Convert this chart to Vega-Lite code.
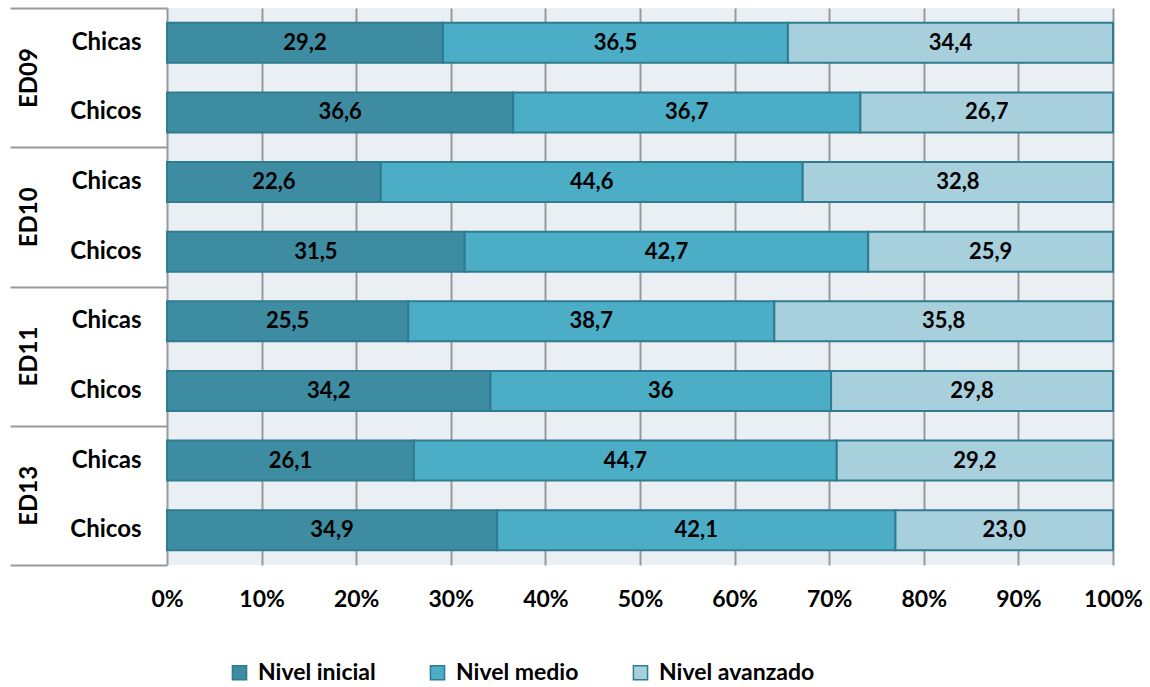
{
  "$schema": "https://vega.github.io/schema/vega-lite/v6.json",
  "width": 946,
  "height": 557,
  "autosize": {"type": "none"},
  "padding": {"left": 167, "top": 8, "right": 37, "bottom": 122},
  "background": "white",
  "config": {
    "font": "Lato",
    "view": {"stroke": null, "fill": "#e9eff2"}
  },
  "data": {
    "values": [
      {"fila": "ED09|Chicas", "grupo": "ED09", "nivel": "Nivel inicial", "orden": 1, "valor": 29.2, "etiqueta": "29,2"},
      {"fila": "ED09|Chicas", "grupo": "ED09", "nivel": "Nivel medio", "orden": 2, "valor": 36.5, "etiqueta": "36,5"},
      {"fila": "ED09|Chicas", "grupo": "ED09", "nivel": "Nivel avanzado", "orden": 3, "valor": 34.4, "etiqueta": "34,4"},
      {"fila": "ED09|Chicos", "grupo": "ED09", "nivel": "Nivel inicial", "orden": 1, "valor": 36.6, "etiqueta": "36,6"},
      {"fila": "ED09|Chicos", "grupo": "ED09", "nivel": "Nivel medio", "orden": 2, "valor": 36.7, "etiqueta": "36,7"},
      {"fila": "ED09|Chicos", "grupo": "ED09", "nivel": "Nivel avanzado", "orden": 3, "valor": 26.7, "etiqueta": "26,7"},
      {"fila": "ED10|Chicas", "grupo": "ED10", "nivel": "Nivel inicial", "orden": 1, "valor": 22.6, "etiqueta": "22,6"},
      {"fila": "ED10|Chicas", "grupo": "ED10", "nivel": "Nivel medio", "orden": 2, "valor": 44.6, "etiqueta": "44,6"},
      {"fila": "ED10|Chicas", "grupo": "ED10", "nivel": "Nivel avanzado", "orden": 3, "valor": 32.8, "etiqueta": "32,8"},
      {"fila": "ED10|Chicos", "grupo": "ED10", "nivel": "Nivel inicial", "orden": 1, "valor": 31.5, "etiqueta": "31,5"},
      {"fila": "ED10|Chicos", "grupo": "ED10", "nivel": "Nivel medio", "orden": 2, "valor": 42.7, "etiqueta": "42,7"},
      {"fila": "ED10|Chicos", "grupo": "ED10", "nivel": "Nivel avanzado", "orden": 3, "valor": 25.9, "etiqueta": "25,9"},
      {"fila": "ED11|Chicas", "grupo": "ED11", "nivel": "Nivel inicial", "orden": 1, "valor": 25.5, "etiqueta": "25,5"},
      {"fila": "ED11|Chicas", "grupo": "ED11", "nivel": "Nivel medio", "orden": 2, "valor": 38.7, "etiqueta": "38,7"},
      {"fila": "ED11|Chicas", "grupo": "ED11", "nivel": "Nivel avanzado", "orden": 3, "valor": 35.8, "etiqueta": "35,8"},
      {"fila": "ED11|Chicos", "grupo": "ED11", "nivel": "Nivel inicial", "orden": 1, "valor": 34.2, "etiqueta": "34,2"},
      {"fila": "ED11|Chicos", "grupo": "ED11", "nivel": "Nivel medio", "orden": 2, "valor": 36.0, "etiqueta": "36"},
      {"fila": "ED11|Chicos", "grupo": "ED11", "nivel": "Nivel avanzado", "orden": 3, "valor": 29.8, "etiqueta": "29,8"},
      {"fila": "ED13|Chicas", "grupo": "ED13", "nivel": "Nivel inicial", "orden": 1, "valor": 26.1, "etiqueta": "26,1"},
      {"fila": "ED13|Chicas", "grupo": "ED13", "nivel": "Nivel medio", "orden": 2, "valor": 44.7, "etiqueta": "44,7"},
      {"fila": "ED13|Chicas", "grupo": "ED13", "nivel": "Nivel avanzado", "orden": 3, "valor": 29.2, "etiqueta": "29,2"},
      {"fila": "ED13|Chicos", "grupo": "ED13", "nivel": "Nivel inicial", "orden": 1, "valor": 34.9, "etiqueta": "34,9"},
      {"fila": "ED13|Chicos", "grupo": "ED13", "nivel": "Nivel medio", "orden": 2, "valor": 42.1, "etiqueta": "42,1"},
      {"fila": "ED13|Chicos", "grupo": "ED13", "nivel": "Nivel avanzado", "orden": 3, "valor": 23.0, "etiqueta": "23,0"}
    ]
  },
  "resolve": {"scale": {"y": "independent"}, "axis": {"y": "independent"}},
  "layer": [
    {
      "encoding": {
        "y": {
          "field": "fila",
          "type": "nominal",
          "sort": null,
          "scale": {"paddingInner": 0.425, "paddingOuter": 0.2125},
          "axis": {
            "title": null,
            "orient": "left",
            "labelExpr": "split(datum.value, '|')[1]",
            "ticks": false,
            "domain": false,
            "labelPadding": 26,
            "labelFont": "Lato",
            "labelFontWeight": "bold",
            "labelFontSize": 24,
            "labelColor": "#000000",
            "labelAlign": "right",
            "labelBaseline": "middle"
          }
        },
        "x": {
          "field": "valor",
          "type": "quantitative",
          "stack": "normalize",
          "scale": {"domain": [0, 1]},
          "axis": {
            "title": null,
            "format": "%",
            "values": [0, 0.1, 0.2, 0.3, 0.4, 0.5, 0.6, 0.7, 0.8, 0.9, 1],
            "grid": true,
            "gridColor": "#999999",
            "gridWidth": 2,
            "domain": false,
            "ticks": false,
            "labelPadding": 23,
            "labelFont": "Lato",
            "labelFontWeight": "bold",
            "labelFontSize": 23,
            "labelColor": "#000000",
            "labelFlush": false
          }
        },
        "order": {"field": "orden", "type": "quantitative"}
      },
      "layer": [
        {
          "mark": {"type": "bar", "stroke": "#2f7c91", "strokeWidth": 2},
          "encoding": {
            "color": {
              "field": "nivel",
              "type": "nominal",
              "sort": ["Nivel inicial", "Nivel medio", "Nivel avanzado"],
              "scale": {
                "domain": ["Nivel inicial", "Nivel medio", "Nivel avanzado"],
                "range": ["#3e8ca2", "#4badc6", "#a8cfdc"]
              },
              "legend": {
                "title": null,
                "orient": "none",
                "direction": "horizontal",
                "legendX": 61,
                "legendY": 653,
                "padding": 0,
                "symbolType": "square",
                "symbolSize": 200,
                "symbolStrokeColor": "#2f7c91",
                "symbolStrokeWidth": 1.5,
                "labelFont": "Lato",
                "labelFontWeight": "bold",
                "labelFontSize": 23,
                "labelColor": "#000000",
                "labelOffset": 7,
                "columnPadding": 50,
                "labelLimit": 300
              }
            }
          }
        },
        {
          "mark": {"type": "text", "font": "Lato", "fontWeight": "bold", "fontSize": 22, "color": "#000000", "baseline": "middle"},
          "encoding": {
            "x": {"field": "valor", "type": "quantitative", "stack": "normalize", "bandPosition": 0.5},
            "text": {"field": "etiqueta", "type": "nominal"}
          }
        }
      ]
    },
    {
      "mark": {"type": "rule", "opacity": 0},
      "encoding": {
        "y": {
          "field": "grupo",
          "type": "nominal",
          "sort": null,
          "scale": {"paddingInner": 0, "paddingOuter": 0},
          "axis": {
            "title": null,
            "orient": "left",
            "domain": false,
            "ticks": true,
            "tickBand": "extent",
            "tickSize": 157,
            "tickColor": "#999999",
            "tickWidth": 2,
            "labelAngle": -90,
            "labelAlign": "center",
            "labelBaseline": "middle",
            "labelPadding": -19,
            "labelFont": "Lato",
            "labelFontWeight": "bold",
            "labelFontSize": 24,
            "labelColor": "#000000"
          }
        }
      }
    }
  ]
}
